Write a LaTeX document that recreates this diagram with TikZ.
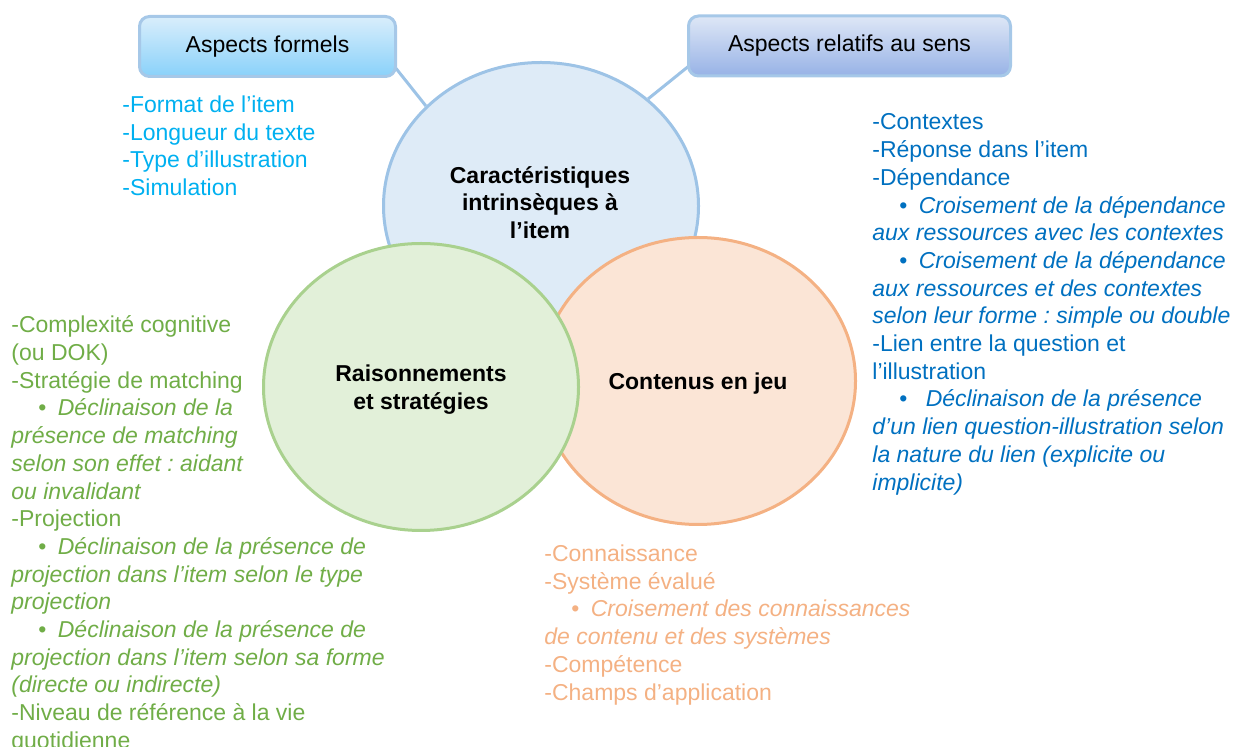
\documentclass[tikz,border=0pt]{standalone}
\usepackage{fontspec}
\setmainfont{Liberation Sans}
\frenchspacing
\usetikzlibrary{positioning,calc,shapes.geometric,backgrounds}
\definecolor{topfill}{HTML}{DEEBF7}
\definecolor{topline}{HTML}{9DC3E6}
\definecolor{rsnfill}{HTML}{E2F0D9}
\definecolor{rsnline}{HTML}{A9D18E}
\definecolor{cntfill}{HTML}{FBE5D6}
\definecolor{cntline}{HTML}{F4B183}
\definecolor{hdrline}{HTML}{A6C8E8}
\definecolor{formtop}{HTML}{D9EEFB}
\definecolor{formbot}{HTML}{89D1FA}
\definecolor{senstop}{HTML}{DEE7F6}
\definecolor{sensbot}{HTML}{97B2E6}
\definecolor{txtcyan}{HTML}{00B0F0}
\definecolor{txtblue}{HTML}{0070C0}
\definecolor{txtgreen}{HTML}{70AD47}
\definecolor{txtorange}{HTML}{F4B183}
\newcommand{\itembul}[1][0.5em]{\hspace*{1.17em}\textbullet\hspace{#1}}
\tikzset{ring/.style={ellipse, draw, line width=1.5pt, inner sep=0pt, minimum width=157.5pt, minimum height=143.5pt}}
\tikzset{hdr/.style={draw=hdrline, line width=1.5pt, rounded corners=5pt, minimum height=30pt, inner sep=0pt, font=\fontsize{11.5}{13.85}\selectfont}}
\tikzset{lst/.style={anchor=north west, inner sep=0pt, align=left, font=\fontsize{11.5}{13.85}\selectfont}}
\tikzset{ttl/.style={anchor=north, inner sep=0pt, align=center, font=\bfseries\fontsize{11.5}{13.75}\selectfont}}
\tikzset{link/.style={draw=topline, line width=1.5pt}}

\begin{document}
\begin{tikzpicture}[x=0.5pt, y=-0.5pt]
	\useasboundingbox (0,0) rectangle (1235,747);
	%
	\node[ring, draw=topline, fill=topfill] (top) at (541,206) {};
	\node[ring, draw=cntline, fill=cntfill] (cnt) at (698,381) {};
	\node[ring, draw=rsnline, fill=rsnfill] (rsn) at (421,387) {};
	%
	\node[hdr, top color=formtop, bottom color=formbot, minimum width=128pt] (formels) at (267.5,46.5) {Aspects formels};
	\node[hdr, top color=senstop, bottom color=sensbot, minimum width=161pt] (relatifs) at (849.5,46) {Aspects relatifs au sens};
	%
	\begin{scope}[on background layer]
		\draw[link] ([shift={(-6.5,-16.5)}]formels.south east) -- (top.139);
		\draw[link] ([shift={(2.5,-12)}]relatifs.south west) -- (top.45);
	\end{scope}
	%
	\node[ttl] (toptxt) at (540,166) {Caractéristiques\\intrinsèques à\\l’item};
	\node[ttl] (rsntxt) at (421,364.5) {Raisonnements\\et stratégies};
	\node[ttl] (cnttxt) at (698,372.5) {Contenus en jeu};
	%
	\node[lst, text=txtcyan] (formlist) at (122,95.5) {-Format de l’item\\-Longueur du texte\\-Type d’illustration\\-Simulation};
	\node[lst, text=txtblue] (senslist) at (872,113.5) {-Contextes\\-Réponse dans l’item\\-Dépendance\\
		\itembul\textit{Croisement de la dépendance}\\\textit{aux ressources avec les contextes}\\
		\itembul\textit{Croisement de la dépendance}\\\textit{aux ressources et des contextes}\\\textit{selon leur forme : simple ou double}\\
		-Lien entre la question et\\l’illustration\\
		\itembul[0.8em]\textit{Déclinaison de la présence}\\\textit{d’un lien question-illustration selon}\\\textit{la nature du lien (explicite ou}\\\textit{implicite)}};
	\node[lst, text=txtgreen] (rsnlist) at (11,315.5) {-Complexité cognitive\\(ou DOK)\\-Stratégie de matching\\
		\itembul\textit{Déclinaison de la}\\\textit{présence de matching}\\\textit{selon son effet : aidant}\\\textit{ou invalidant}\\
		-Projection\\
		\itembul\textit{Déclinaison de la présence de}\\\textit{projection dans l’item selon le type}\\\textit{projection}\\
		\itembul\textit{Déclinaison de la présence de}\\\textit{projection dans l’item selon sa forme}\\\textit{(directe ou indirecte)}\\
		-Niveau de référence à la vie\\quotidienne};
	\node[lst, text=txtorange] (cntlist) at (544,544.5) {-Connaissance\\-Système évalué\\
		\itembul\textit{Croisement des connaissances}\\\textit{de contenu et des systèmes}\\
		-Compétence\\-Champs d’application};
\end{tikzpicture}
\end{document}
